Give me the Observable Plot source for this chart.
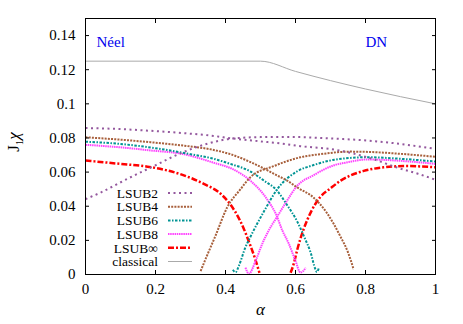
<!DOCTYPE html>
<html><head><meta charset="utf-8">
<script src="https://cdn.jsdelivr.net/npm/d3@7"></script>
<script src="https://cdn.jsdelivr.net/npm/@observablehq/plot@0.6"></script>
<style>body{margin:0;background:#fff} #chart{width:463px;height:324px} svg text{font-family:"Liberation Serif","Times New Roman",serif}</style>
</head><body><div id="chart"></div>
<script>
// [alpha, J1*chi]
const lsub2Neel = [[0,0.0858],[0.1,0.0852],[0.2,0.084],[0.3,0.0825],[0.366,0.0812],[0.42,0.0797],[0.5,0.078],[0.557,0.0768],[0.614,0.0752],[0.71,0.0732],[0.805,0.0687],[0.9,0.062],[0.95,0.059],[1.0,0.0555]];
const lsub2DN = [[0,0.0442],[0.043,0.048],[0.119,0.056],[0.195,0.0635],[0.271,0.071],[0.348,0.0766],[0.42,0.0797],[0.5,0.0805],[0.557,0.0806],[0.614,0.0805],[0.7,0.0797],[0.805,0.0785],[0.9,0.0765],[1.0,0.0736]];
const lsub4Neel = [[0,0.0804],[0.1,0.079],[0.186,0.0775],[0.28,0.0755],[0.366,0.073],[0.414,0.0705],[0.47,0.066],[0.52,0.061],[0.548,0.058],[0.576,0.055],[0.605,0.051],[0.652,0.045],[0.69,0.036],[0.729,0.022],[0.75,0.013],[0.766,0.003]];
const lsub4DN = [[0.329,0.002],[0.345,0.010],[0.37,0.022],[0.405,0.0394],[0.443,0.050],[0.471,0.057],[0.538,0.0635],[0.614,0.0687],[0.671,0.0705],[0.757,0.072],[0.843,0.0715],[0.9,0.0707],[1.0,0.069]];
const lsub6Neel = [[0,0.0778],[0.1,0.0765],[0.2,0.074],[0.3,0.0705],[0.366,0.0678],[0.414,0.0648],[0.47,0.0605],[0.51,0.055],[0.548,0.049],[0.575,0.041],[0.605,0.031],[0.625,0.022],[0.643,0.013],[0.657,0.003],[0.661,0.0015],[0.667,0.004]];
const lsub6DN = [[0.421,0.0028],[0.429,0.0013],[0.438,0.005],[0.457,0.016],[0.471,0.022],[0.51,0.037],[0.548,0.050],[0.605,0.0605],[0.65,0.064],[0.71,0.0672],[0.805,0.0687],[0.9,0.0678],[1.0,0.0662]];
const lsub8Neel = [[0,0.076],[0.1,0.0745],[0.186,0.0727],[0.28,0.0705],[0.366,0.0655],[0.423,0.0615],[0.471,0.055],[0.519,0.044],[0.545,0.035],[0.562,0.026],[0.581,0.018],[0.6,0.008],[0.614,0.0012],[0.622,0.002],[0.629,0.004]];
const lsub8DN = [[0.457,0.004],[0.467,0.0005],[0.486,0.008],[0.505,0.018],[0.524,0.026],[0.548,0.034],[0.575,0.043],[0.605,0.052],[0.65,0.058],[0.71,0.064],[0.75,0.0658],[0.805,0.0674],[0.85,0.0672],[0.9,0.0666],[0.95,0.0658],[1.0,0.0648]];
const lsubInfNeel = [[0,0.0668],[0.1,0.0648],[0.177,0.0632],[0.233,0.061],[0.271,0.0588],[0.338,0.0531],[0.386,0.0473],[0.414,0.041],[0.443,0.031],[0.471,0.017],[0.485,0.009],[0.497,0.001]];
const lsubInfDN = [[0.586,0.001],[0.596,0.007],[0.605,0.0145],[0.624,0.027],[0.645,0.037],[0.671,0.0455],[0.70,0.0505],[0.729,0.055],[0.757,0.058],[0.795,0.0607],[0.852,0.0628],[0.92,0.0636],[0.96,0.0633],[1.0,0.0628]];
const classical = [[0,0.125],[0.5,0.125],[0.6,0.119],[0.7,0.1136],[0.8,0.1087],[0.9,0.1042],[1.0,0.1]];

const xTicks = [0,0.2,0.4,0.6,0.8,1];
const yTicks = [0,0.02,0.04,0.06,0.08,0.1,0.12,0.14];
const seriesNames = ["LSUB2","LSUB4","LSUB6","LSUB8","LSUB∞","classical"];
const phaseLabels = ["Néel","DN"];

const styles = {
  "LSUB2": {stroke:"#94589e", dash:"2,3.5", width:2},
  "LSUB4": {stroke:"#a8603c", dash:"2,1.2", width:2},
  "LSUB6": {stroke:"#009494", dash:"2.5,1.5,1.5,1.5", width:2},
  "LSUB8": {stroke:"#ff44ff", dash:"1.5,0.7", width:2},
  "LSUB∞": {stroke:"#ff0000", dash:"6,2,2,2", width:2.5},
  "classical": {stroke:"#aaaaaa", dash:null, width:1}
};
const branches = {
  "LSUB2":[lsub2Neel,lsub2DN],
  "LSUB4":[lsub4Neel,lsub4DN],
  "LSUB6":[lsub6Neel,lsub6DN],
  "LSUB8":[lsub8Neel,lsub8DN],
  "LSUB∞":[lsubInfNeel,lsubInfDN],
  "classical":[classical]
};
const toRows = (name) => branches[name].flatMap((b,bi)=> b.map(([a,v])=>({a, v, z:name+bi})));

const font = "'Liberation Serif', 'Times New Roman', serif";
const fmt = d => String(+d.toFixed(2));

const lineMarks = seriesNames.slice().reverse().map(name => Plot.line(toRows(name), {
  x:"a", y:"v", z:"z", stroke: styles[name].stroke, strokeWidth: styles[name].width,
  strokeDasharray: styles[name].dash, strokeLinecap:"butt", curve:"monotone-x"
}));

const chart = Plot.plot({
  width:463, height:324,
  marginLeft:85, marginRight:28, marginTop:18, marginBottom:50,
  style:{fontFamily:font, fontSize:"15px", background:"#fff", color:"#000"},
  x:{domain:[0,1]},
  y:{domain:[0,0.15]},
  marks:[
    ...lineMarks,
    Plot.axisX(xTicks, {anchor:"bottom", tickSize:-4, tickPadding:13, tickFormat:fmt, label:null, fontSize:15, fontFamily:font}),
    Plot.axisX(xTicks, {anchor:"top", tickSize:-4, tickFormat:()=>"", label:null}),
    Plot.axisY(yTicks, {anchor:"left", tickSize:-4, tickPadding:14, tickFormat:fmt, label:null, fontSize:15, fontFamily:font}),
    Plot.axisY(yTicks, {anchor:"right", tickSize:-4, tickFormat:()=>"", label:null}),
    Plot.frame({stroke:"#000", strokeWidth:1}),
    Plot.text([phaseLabels[0]], {frameAnchor:"top-left", dx:11, dy:18, text:d=>d, fill:"#0000ee", fontSize:15, fontFamily:font, textAnchor:"start"}),
    Plot.text([phaseLabels[1]], {frameAnchor:"top-left", dx:280, dy:18, text:d=>d, fill:"#0000ee", fontSize:15, fontFamily:font, textAnchor:"start"}),
    Plot.text(["α"], {frameAnchor:"bottom", dy:40, text:d=>d, fontSize:17, fontFamily:font, fontStyle:"italic"})
  ]
});
document.getElementById("chart").appendChild(chart);

// y-axis label J1χ
const svg = d3.select(chart);
const yl = svg.append("text")
  .attr("transform","translate(19,142) rotate(-90)")
  .attr("text-anchor","middle")
  .attr("font-family",font).attr("font-size",17).attr("fill","#000");
yl.append("tspan").text("J");
yl.append("tspan").attr("font-size",11).attr("dy",4).text("1");
yl.append("tspan").attr("dy",-4).attr("font-style","italic").text("χ");

// legend
const lg = svg.append("g");
seriesNames.forEach((name,i)=>{
  const y = 193 + i*13.7;
  lg.append("text").attr("x",158).attr("y",y).attr("dy","0.35em")
    .attr("text-anchor","end").attr("font-family",font).attr("font-size",13.5).attr("fill","#000").text(name);
  const ln = lg.append("line").attr("x1",168).attr("x2",192).attr("y1",y).attr("y2",y)
    .attr("stroke",styles[name].stroke).attr("stroke-width",styles[name].width);
  if (styles[name].dash) ln.attr("stroke-dasharray",styles[name].dash);
});
</script>
</body></html>
